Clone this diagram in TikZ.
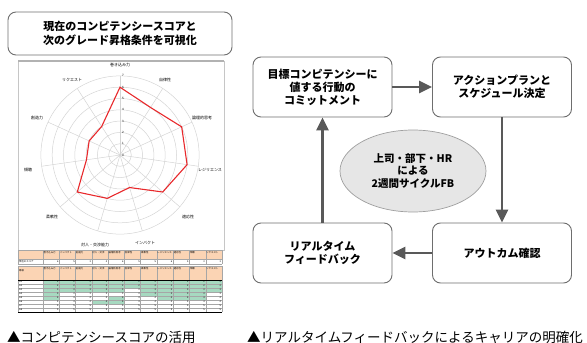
\documentclass[tikz,border=0pt]{standalone}
\usepackage{fontspec}
\setmainfont{Noto Sans CJK JP}
\usetikzlibrary{arrows.meta,shapes.geometric}
\definecolor{boxgray}{HTML}{6E6E6E}
\definecolor{arrowgray}{HTML}{595959}
\definecolor{ellfill}{HTML}{E6E6E6}
\definecolor{peach}{HTML}{FBD4B4}
\definecolor{mint}{HTML}{A6D9C0}
\definecolor{gridgray}{HTML}{D4D4D4}
\definecolor{radarred}{HTML}{E8282B}
\begin{document}
\begin{tikzpicture}[x=1pt,y=-1pt,
  flowbox/.style={draw=boxgray,line width=0.9pt,rounded corners=8pt,fill=white,minimum width=139pt,minimum height=60pt,align=center,font=\bfseries\fontsize{11}{13}\selectfont,inner sep=0pt},
  flow/.style={draw=arrowgray,line width=2.6pt,-{Triangle[length=13pt,width=12pt]}},
  axlabel/.style={font=\fontsize{4}{4.5}\selectfont,inner sep=0pt},
  cellt/.style={font=\fontsize{2.4}{2.8}\selectfont,inner sep=0.4pt},
  gridl/.style={draw=gridgray,line width=0.5pt},
  cell/.style={draw=gray!70,line width=0.3pt},
  caption/.style={font=\fontsize{13.5}{15}\selectfont,anchor=west,inner sep=0pt}]
\useasboundingbox (0,0) rectangle (587,343);

% ---------- left: title ----------
\node[draw=boxgray,line width=0.9pt,rounded corners=8pt,minimum width=224pt,minimum height=43pt,align=center,font=\bfseries\fontsize{11}{14.5}\selectfont] (title) at (120,33.5) {現在のコンピテンシースコアと\\次のグレード昇格条件を可視化};

% ---------- chart frame ----------
\draw[draw=gray!45,line width=0.5pt] (18,61) rectangle (224,250);
\draw[draw=gray!60,line width=1.5pt] (18,61) -- (224,61);

% ---------- radar ----------
\def\cx{120}\def\cy{155}\def\u{11.3}
\foreach \k in {1,...,7} \draw[gridl] (\cx,\cy) circle[radius=\k*11.3pt];
\foreach \i in {0,...,10} \draw[gridl] (\cx,\cy) -- ({\cx+79.1*sin(\i*360/11)},{\cy-79.1*cos(\i*360/11)});
\foreach \k in {0,...,7} \node[axlabel,font=\fontsize{3}{3}\selectfont] at ({\cx+3},{\cy-\k*\u}) {\k};
\foreach \i/\v in {0/6,1/5,2/6,3/6,4/5,5/3,6/4,7/5,8/3,9/3,10/3}
  \coordinate (p\i) at ({\cx+\v*\u*sin(\i*360/11)},{\cy-\v*\u*cos(\i*360/11)});
\draw[radarred,line width=1.1pt,line join=miter] (p0)--(p1)--(p2)--(p3)--(p4)--(p5)--(p6)--(p7)--(p8)--(p9)--(p10)--cycle;
\node[axlabel] (l0) at (120,65) {巻き込み力};
\node[axlabel] (l1) at (165,80) {自律性};
\node[axlabel] (l2) at (202,118) {論理的思考};
\node[axlabel] (l3) at (210,170) {レジリエンス};
\node[axlabel] (l4) at (188,217) {適応性};
\node[axlabel] (l5) at (145,243) {インパクト};
\node[axlabel] (l6) at (95,245) {対人・交渉能力};
\node[axlabel] (l7) at (52,217) {柔軟性};
\node[axlabel] (l8) at (28,170) {傾聴};
\node[axlabel] (l9) at (37,118) {創造力};
\node[axlabel] (l10) at (72,80) {リクエスト};

% ---------- table 1 ----------
\fill[peach] (18,250) rectangle (222,259);
\foreach \i in {0,...,11} \draw[cell] ({43+\i*16.27},250) -- ({43+\i*16.27},264);
\draw[cell] (18,250) -- (18,264);
\foreach \yy in {250,259,264} \draw[cell] (18,\yy) -- (222,\yy);
\foreach \i/\t in {1/巻き込み力,2/インパクト,3/創造力,4/対人・交渉,5/論理的思考,6/自律性,7/柔軟性,8/レジリエンス,9/適応性,10/傾聴,11/リクエスト}
  \node[cellt,anchor=north west,text width=14pt] at ({43+(\i-1)*16.27},250.5) {\t};
\node[cellt,anchor=west] at (18.5,261.5) {現在のスコア};
\foreach \i/\v in {1/6,2/5,3/3,4/4,5/6,6/5,7/5,8/6,9/5,10/3,11/3}
  \node[cellt,anchor=east] at ({43+\i*16.27-0.3},261.5) {\v};

% ---------- table 2 ----------
\fill[peach] (18,266) rectangle (222,280);
\fill[mint] (43,280) rectangle (222,288);
\fill[mint] (43,288) rectangle (124.35,292);
\fill[mint] (140.62,288) rectangle (222,292);
\fill[mint] (43,292) rectangle (59.27,296);
\fill[mint] (140.62,292) rectangle (205.7,296);
\fill[mint] (43,296) rectangle (59.27,300);
\fill[mint] (108.08,296) rectangle (124.35,300);
\fill[mint] (156.89,296) rectangle (205.7,300);
\fill[mint] (91.81,300) rectangle (124.35,304);
\foreach \i in {0,...,11} \draw[cell] ({43+\i*16.27},266) -- ({43+\i*16.27},312);
\draw[cell] (18,266) -- (18,312);
\foreach \yy in {266,284,288,292,296,300,304,308} \draw[cell] (18,\yy) -- (222,\yy);
\draw[black,line width=0.7pt] (18,280) -- (222,280);
\draw[black,line width=0.7pt] (18,312) -- (222,312);
\foreach \i/\t in {1/巻き込み力,2/インパクト,3/創造力,4/対人・交渉,5/論理的思考,6/自律性,7/柔軟性,8/レジリエンス,9/適応性,10/傾聴,11/リクエスト}
  \node[cellt,anchor=north west,text width=14pt] at ({43+(\i-1)*16.27},266.5) {\t};
\node[cellt,anchor=west] at (18.5,271) {等級};
\foreach \k/\v in {1/2,2/2,3/3,4/3,5/4,6/4,7/5,8/5}{
  \node[cellt,anchor=west] at (18.5,{278+4*\k}) {G\k};
  \foreach \i in {1,...,11} \node[cellt,anchor=east] at ({43+\i*16.27-0.3},{278+4*\k}) {\v};
}

% ---------- right: flow ----------
\node[flowbox] (A) at (322.5,87) {目標コンピテンシーに\\値する行動の\\コミットメント};
\node[flowbox] (B) at (502,87) {アクションプランと\\スケジュール決定};
\node[flowbox] (C) at (322.5,253) {リアルタイム\\フィードバック};
\node[flowbox] (D) at (502,253) {アウトカム確認};
\node[ellipse,draw=gray!75,line width=0.7pt,fill=ellfill,minimum width=146pt,minimum height=82pt,inner sep=0pt,align=center,font=\bfseries\fontsize{10.5}{12.5}\selectfont] (fb) at (413,171) {上司・部下・HR\\による\\2週間サイクルFB};
\draw[flow] (A) -- (B);
\draw[flow] (B) -- (D);
\draw[flow] (D) -- (C);
\draw[flow] (C) -- (A);

% ---------- captions ----------
\node[caption] (cap1) at (7,337) {▲コンピテンシースコアの活用};
\node[caption] (cap2) at (247,337) {▲リアルタイムフィードバックによるキャリアの明確化};
\end{tikzpicture}
\end{document}
